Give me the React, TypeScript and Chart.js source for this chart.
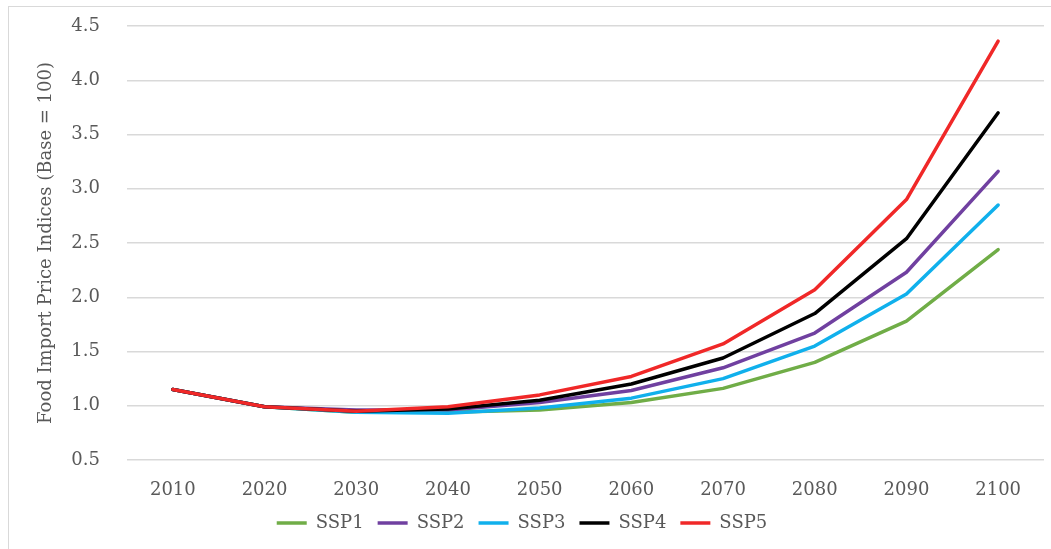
import React, { useEffect, useRef } from "react";
import { Chart, registerables } from "chart.js";

Chart.register(...registerables);

const years = ["2010", "2020", "2030", "2040", "2050", "2060", "2070", "2080", "2090", "2100"];
const ssp1 = [1.15, 0.99, 0.94, 0.94, 0.96, 1.03, 1.16, 1.40, 1.78, 2.44];
const ssp2 = [1.15, 0.99, 0.96, 0.96, 1.03, 1.14, 1.35, 1.67, 2.23, 3.16];
const ssp3 = [1.15, 0.99, 0.94, 0.93, 0.98, 1.07, 1.25, 1.55, 2.03, 2.85];
const ssp4 = [1.15, 0.99, 0.95, 0.97, 1.05, 1.20, 1.44, 1.85, 2.54, 3.70];
const ssp5 = [1.15, 0.99, 0.95, 0.99, 1.10, 1.27, 1.57, 2.07, 2.90, 4.36];
const seriesNames = ["SSP1", "SSP2", "SSP3", "SSP4", "SSP5"];
const seriesColors = ["#70AD47", "#7040A0", "#10B0EC", "#000000", "#F02828"];
const yTitle = "Food Import Price Indices (Base = 100)";

const FONT = "'DejaVu Serif', serif";
const TEXT = "#595959";

export default function App() {
  const ref = useRef<HTMLCanvasElement | null>(null);

  useEffect(() => {
    if (!ref.current) return;
    const values = [ssp1, ssp2, ssp3, ssp4, ssp5];
    const chart = new Chart(ref.current, {
      type: "line",
      data: {
        labels: years,
        datasets: values.map((v, i) => ({
          label: seriesNames[i],
          data: v,
          borderColor: seriesColors[i],
          backgroundColor: seriesColors[i],
          borderWidth: 3.5,
          pointRadius: 0,
          tension: 0,
          borderCapStyle: "round" as const,
          borderJoinStyle: "round" as const,
          order: 5 - i,
        })),
      },
      options: {
        animation: false,
        responsive: true,
        maintainAspectRatio: false,
        layout: { padding: { top: 26, right: 7, left: 0, bottom: 7 } },
        plugins: {
          tooltip: { enabled: false },
          legend: {
            position: "bottom",
            labels: {
              usePointStyle: true,
              pointStyle: "line",
              pointStyleWidth: 30,
              padding: 14,
              color: TEXT,
              font: { family: FONT, size: 18 },
              sort: (a: any, b: any) => a.datasetIndex - b.datasetIndex,
            },
          },
        },
        scales: {
          x: {
            offset: true,
            grid: { display: false, drawTicks: false },
            border: { display: false },
            ticks: { color: TEXT, font: { family: FONT, size: 18 }, padding: 20, maxRotation: 0 },
            afterFit: (s: any) => { s.height = 40; },
          },
          y: {
            min: 0.5,
            max: 4.5,
            grid: { color: "#d9d9d9", lineWidth: 1.5, drawTicks: true, tickLength: 27, tickColor: "rgba(0,0,0,0)" },
            border: { display: false },
            ticks: {
              stepSize: 0.5,
              color: TEXT,
              padding: 0,
              font: { family: FONT, size: 18 },
              callback: (v: any) => Number(v).toFixed(1),
            },
            title: {
              display: true,
              text: yTitle,
              color: TEXT,
              font: { family: FONT, size: 18 },
              padding: { top: 36, bottom: 0 },
            },
            afterFit: (s: any) => { s.width = 127; },
          },
        },
      },
    });
    return () => chart.destroy();
  }, []);

  return (
    <div style={{ position: "absolute", left: 0, top: 0, width: 1051, height: 549, overflow: "hidden", background: "#fff" }}>
      <div style={{ position: "absolute", left: 8, top: 6, width: 1200, height: 700, borderLeft: "1px solid #d9d9d9", borderTop: "1px solid #d9d9d9" }} />
      <div style={{ position: "absolute", left: 0, top: 0, width: 1051, height: 549 }}>
        <canvas ref={ref} />
      </div>
    </div>
  );
}
